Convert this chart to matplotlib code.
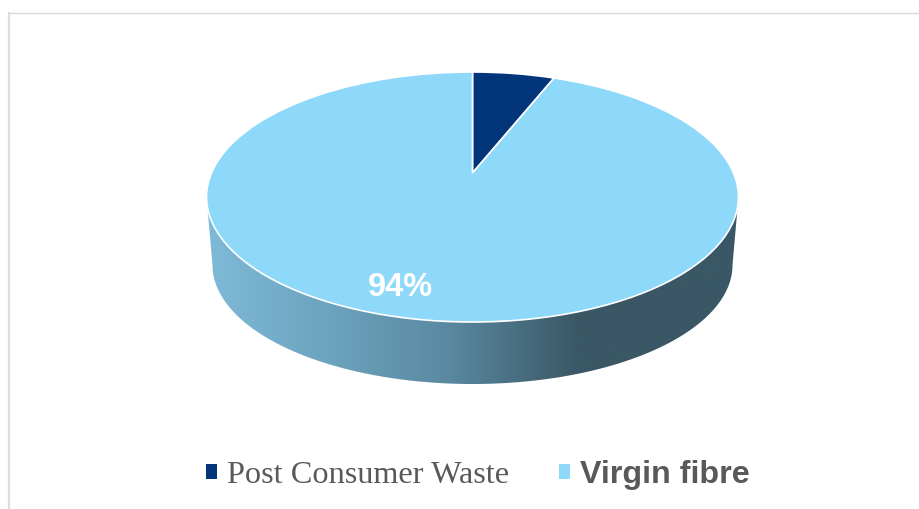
import numpy as np
import matplotlib
matplotlib.use("Agg")
import matplotlib.pyplot as plt
from matplotlib.colors import LinearSegmentedColormap
from matplotlib.patches import Patch, Polygon
from matplotlib.transforms import Transform

labels = ["Post Consumer Waste", "Virgin fibre"]
values = [6, 94]
colors = ["#03357A", "#8ED8F9"]


class Tilted(Transform):
    # unit circle -> tilted disc on the page (far edge looks shorter)
    input_dims = 2
    output_dims = 2
    k = 0.192

    def transform_non_affine(self, xy):
        xy = np.asarray(xy)
        w = 1 + self.k * xy[:, 1]
        return np.column_stack([472.5 + 261 * xy[:, 0] / w, 173 - 120.4 * xy[:, 1] / w])


fig = plt.figure(figsize=(9.2, 5.09), dpi=100)
ax = fig.add_axes([0, 0, 1, 1])

# side wall of the disc, shading goes from light to dark blue
t = np.linspace(0, np.pi, 200)
wall_x = np.concatenate([[738.5], 472.5 + 260 * np.cos(t), [206.5]])
wall_y = np.concatenate([[197], 265 + 119 * np.sin(t), [197]])
wall = Polygon(np.column_stack([wall_x, wall_y]), closed=True, fc="none", ec="none")
ax.add_patch(wall)
shade = LinearSegmentedColormap.from_list(
    "wall",
    [(0, "#7FBAD8"), (0.2, "#6EA6C1"), (0.45, "#5A8AA1"), (0.7, "#3A5766"), (1, "#3A5766")],
)
img = ax.imshow(np.linspace(0, 1, 256)[None, :], extent=(206, 739, 384, 190),
                cmap=shade, aspect="auto", zorder=1)
img.set_clip_path(wall)

# top of the disc
wedges, _ = ax.pie(values, colors=colors, startangle=90, counterclock=False,
                   wedgeprops={"edgecolor": "white", "linewidth": 1.2})
for w in wedges:
    w.set_transform(Tilted() + ax.transData)
    w.set_zorder(2)
    w.set_clip_on(False)

ax.text(400, 288, f"{values[1]}%", color="white", fontsize=23.5, fontweight="bold",
        family="Liberation Sans", ha="center", va="center", zorder=3)

# chart border, only top and left show in the crop
ax.plot([9, 9], [509, 12.5], color="#DEDEDE", lw=1.6, zorder=0)
ax.plot([9, 920], [12.5, 12.5], color="#D9D9D9", lw=1.0, zorder=0)

handles = [Patch(fc=c, ec="none") for c in colors]
leg = ax.legend(handles, labels, ncol=2, frameon=False, loc="center",
                bbox_to_anchor=(478, 475), bbox_transform=ax.transData,
                handlelength=0.34, handleheight=0.34, handletextpad=0.31,
                columnspacing=1.55, fontsize=23.2, labelcolor="#595959")
texts = leg.get_texts()
texts[0].set_fontfamily("Liberation Serif")
texts[1].set_fontfamily("Liberation Sans")
texts[1].set_fontweight("bold")

ax.set_aspect("auto")
ax.set_xlim(0, 920)
ax.set_ylim(509, 0)
ax.axis("off")

fig.savefig("out.png", dpi=100)
